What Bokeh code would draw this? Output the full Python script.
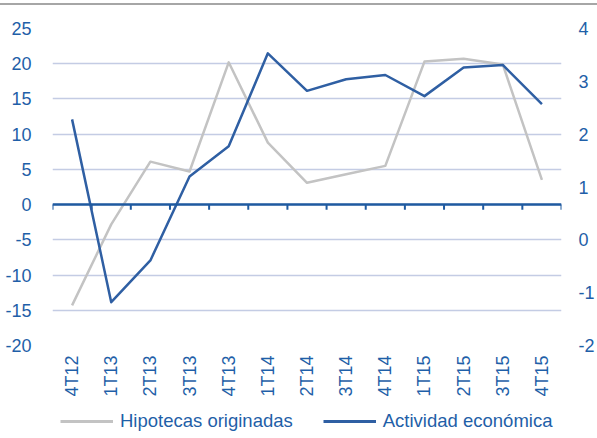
import math
from bokeh.plotting import figure
from bokeh.models import Range1d, LinearAxis, FixedTicker, Legend, LegendItem, Span
from bokeh.layouts import column
from bokeh.embed import file_html
from bokeh.resources import INLINE

periodos = ["4T12", "1T13", "2T13", "3T13", "4T13", "1T14", "2T14",
            "3T14", "4T14", "1T15", "2T15", "3T15", "4T15"]
hipotecas = [-14.3, -2.8, 6.1, 4.7, 20.2, 8.8, 3.1, 4.3, 5.5, 20.3, 20.7, 19.9, 3.5]
actividad = [2.28, -1.18, -0.39, 1.20, 1.77, 3.53, 2.82, 3.04, 3.12, 2.72, 3.26, 3.31, 2.57]
series = ["Hipotecas originadas", "Actividad económica"]
ticks_izq = [-20, -15, -10, -5, 0, 5, 10, 15, 20, 25]
ticks_der = [-2, -1, 0, 1, 2, 3, 4]

AZUL_TXT = "#1f5fa8"
AZUL_LINEA = "#2f5fa3"
AZUL_EJE = "#1f5aa0"
GRIS = "#c3c3c3"
GRID = "#c4cce4"
FONT = "Liberation Sans"

n = len(periodos)
x = list(range(n))
bordes = [i - 0.5 for i in range(n + 1)]
FRAME_H = 315
tick_len = (ticks_izq[-1] - ticks_izq[0]) * 5 / FRAME_H

p = figure(width=597, height=394, output_backend="svg", toolbar_location=None,
           x_range=Range1d(-0.5, n - 0.5),
           y_range=Range1d(ticks_izq[0], ticks_izq[-1]),
           x_axis_type=None,
           min_border_left=52, min_border_right=33, min_border_top=23,
           min_border_bottom=0)
p.outline_line_color = None
p.extra_y_ranges = {"der": Range1d(ticks_der[0], ticks_der[-1])}

# left axis
yl = p.yaxis[0]
yl.ticker = FixedTicker(ticks=ticks_izq)
yl.major_label_overrides = {v: str(v) for v in ticks_izq}
yl.axis_line_color = None
yl.major_tick_line_color = None
yl.minor_tick_line_color = None
yl.major_label_standoff = 15
yl.major_label_text_font = FONT
yl.major_label_text_font_size = "18px"
yl.major_label_text_color = AZUL_TXT

p.ygrid.ticker = FixedTicker(ticks=ticks_izq)
p.ygrid.grid_line_color = GRID
p.ygrid.grid_line_width = 1.5

# right axis
yr = LinearAxis(y_range_name="der", ticker=FixedTicker(ticks=ticks_der),
                major_label_overrides={v: str(v) for v in ticks_der})
yr.axis_line_color = None
yr.major_tick_line_color = None
yr.major_tick_out = 0
yr.major_tick_in = 0
yr.minor_tick_line_color = None
yr.minor_tick_out = 0
yr.minor_tick_in = 0
yr.major_label_standoff = 17
yr.major_label_text_font = FONT
yr.major_label_text_font_size = "18px"
yr.major_label_text_color = AZUL_TXT
p.add_layout(yr, "right")

# category labels axis
xl = LinearAxis(ticker=FixedTicker(ticks=x),
                major_label_overrides={i: lab for i, lab in zip(x, periodos)})
xl.axis_line_color = None
xl.major_tick_line_color = None
xl.major_tick_out = 0
xl.minor_tick_line_color = None
xl.minor_tick_out = 0
xl.major_label_orientation = math.pi / 2
xl.major_label_standoff = 10
xl.major_label_text_font = FONT
xl.major_label_text_font_size = "18px"
xl.major_label_text_color = AZUL_TXT
p.add_layout(xl, "below")

# zero line with ticks at category boundaries
p.add_layout(Span(location=0, dimension="width", line_color=AZUL_EJE, line_width=2.5))
p.segment(x0=bordes, y0=[0] * len(bordes), x1=bordes, y1=[-tick_len] * len(bordes),
          line_color=AZUL_EJE, line_width=2)

p.line(x, hipotecas, line_color=GRIS, line_width=2.5, line_join="round")
p.line(x, actividad, y_range_name="der", line_color=AZUL_LINEA,
       line_width=2.5, line_join="round")

p.styles = {"border-top": "2px solid #a6a6a6", "margin-top": "3px"}

# legend strip
pl = figure(width=597, height=36, output_backend="svg", toolbar_location=None,
            x_range=Range1d(-0.5, n - 0.5), y_range=Range1d(-1, 1),
            x_axis_type=None, y_axis_type=None,
            min_border_left=52, min_border_right=33, min_border_top=0,
            min_border_bottom=0)
pl.outline_line_color = None
pl.xgrid.visible = False
pl.ygrid.visible = False
g1 = pl.line(x=[x[0]], y=[hipotecas[0]], line_color=GRIS, line_width=3)
g2 = pl.line(x=[x[0]], y=[actividad[0]], line_color=AZUL_LINEA, line_width=3)
legend = Legend(items=[LegendItem(label=series[0], renderers=[g1]),
                       LegendItem(label=series[1], renderers=[g2])],
                orientation="horizontal", location=(8, 1),
                glyph_width=53, glyph_height=20, label_standoff=7, spacing=30,
                border_line_color=None, background_fill_alpha=0,
                label_text_font=FONT, label_text_font_size="18.5px",
                label_text_color=AZUL_TXT, padding=0, margin=0)
pl.add_layout(legend, "center")

layout = column(p, pl, spacing=0)
open("out.html", "w").write(file_html(layout, INLINE))
